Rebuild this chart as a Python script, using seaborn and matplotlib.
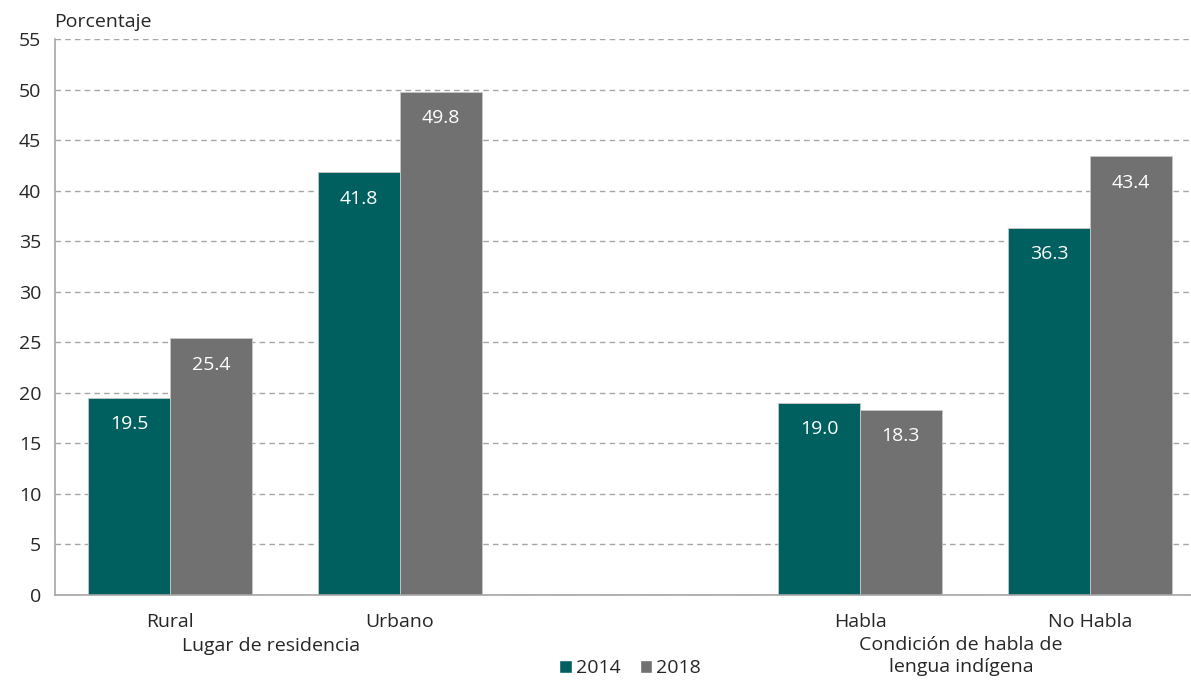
#!/usr/bin/env python3

import pandas as pd
import matplotlib.pyplot as plt
import seaborn as sns
from matplotlib.patches import Patch

SET_DPI = 100
FIGSIZE = (11.91, 6.8)

CATEGORIES = ['Rural', 'Urbano', ' ', 'Habla', 'No Habla']
YEARS = ['2014', '2018']
BAR_CATS = ['Rural', 'Urbano', 'Habla', 'No Habla']
VALS_2014 = [19.5, 41.8, 19.0, 36.3]
VALS_2018 = [25.4, 49.8, 18.3, 43.4]
GROUPS = ['Lugar de residencia', 'Condición de habla de\nlengua indígena']
COLOURS = ['#00605f', '#717171']
FONT = 'Open Sans'
FS = 14

df = pd.DataFrame({
    'cat': BAR_CATS * 2,
    'year': [YEARS[0]] * len(BAR_CATS) + [YEARS[1]] * len(BAR_CATS),
    'val': VALS_2014 + VALS_2018,
})

sns.set_style('white')
plt.rcParams['font.family'] = [FONT, 'DejaVu Sans']

fig = plt.figure(figsize=FIGSIZE, dpi=SET_DPI)
ax = fig.add_axes([55 / 1191, 85 / 680, 1150 / 1191, 556 / 680])

sns.barplot(data=df, x='cat', y='val', hue='year', order=CATEGORIES,
            hue_order=YEARS, palette=COLOURS, saturation=1, width=0.71, gap=0,
            edgecolor='#c8c8c8', linewidth=0.6, legend=False, ax=ax)

for cont in ax.containers:
    for bar in cont:
        h = bar.get_height()
        ax.annotate(f'{h:.1f}', (bar.get_x() + bar.get_width() / 2, h),
                    xytext=(0, -19), textcoords='offset points',
                    ha='center', va='center', color='white', fontsize=FS)

ax.set_ylim(0, 55)
ax.set_xlim(-0.5, 4.5)
ax.set_yticks(range(0, 56, 5))
ax.yaxis.grid(True, linestyle=(0, (4, 3)), color='#a6a6a6', linewidth=1)
ax.set_axisbelow(True)
for s in ['top', 'right']:
    ax.spines[s].set_visible(False)
for s in ['left', 'bottom']:
    ax.spines[s].set_color('#a6a6a6')
    ax.spines[s].set_linewidth(1.2)

ax.set_xticks(range(len(CATEGORIES)))
ax.set_xticklabels(CATEGORIES, fontsize=FS)
ax.set_xticks([i - 0.5 for i in range(len(CATEGORIES) + 1)], minor=True)
ax.tick_params(axis='x', which='major', length=0, pad=13)
ax.tick_params(axis='x', which='minor', length=6, color='#a6a6a6', direction='inout')
ax.tick_params(axis='y', length=6, color='#a6a6a6', labelsize=FS, pad=4)
ax.set_xlabel('')
ax.set_ylabel('')

ax.text(0.44, -0.092, GROUPS[0], transform=ax.get_xaxis_transform(),
        ha='center', va='center', fontsize=FS)
ax.text(3.44, -0.074, GROUPS[1], transform=ax.get_xaxis_transform(),
        ha='center', va='top', fontsize=FS, linespacing=1.25)

fig.text(54 / 1191, 1 - 22 / 680, 'Porcentaje', ha='left', va='center',
         fontsize=FS)

handles = [Patch(facecolor=c, label=y) for c, y in zip(COLOURS, YEARS)]
fig.legend(handles=handles, loc='center', bbox_to_anchor=(630 / 1191, 12 / 680),
           ncol=2, frameon=False, fontsize=FS, handlelength=0.65,
           handleheight=0.65, handletextpad=0.2, columnspacing=1.0,
           borderpad=0.1)

plt.savefig('out.png', dpi=SET_DPI)
plt.close('all')
